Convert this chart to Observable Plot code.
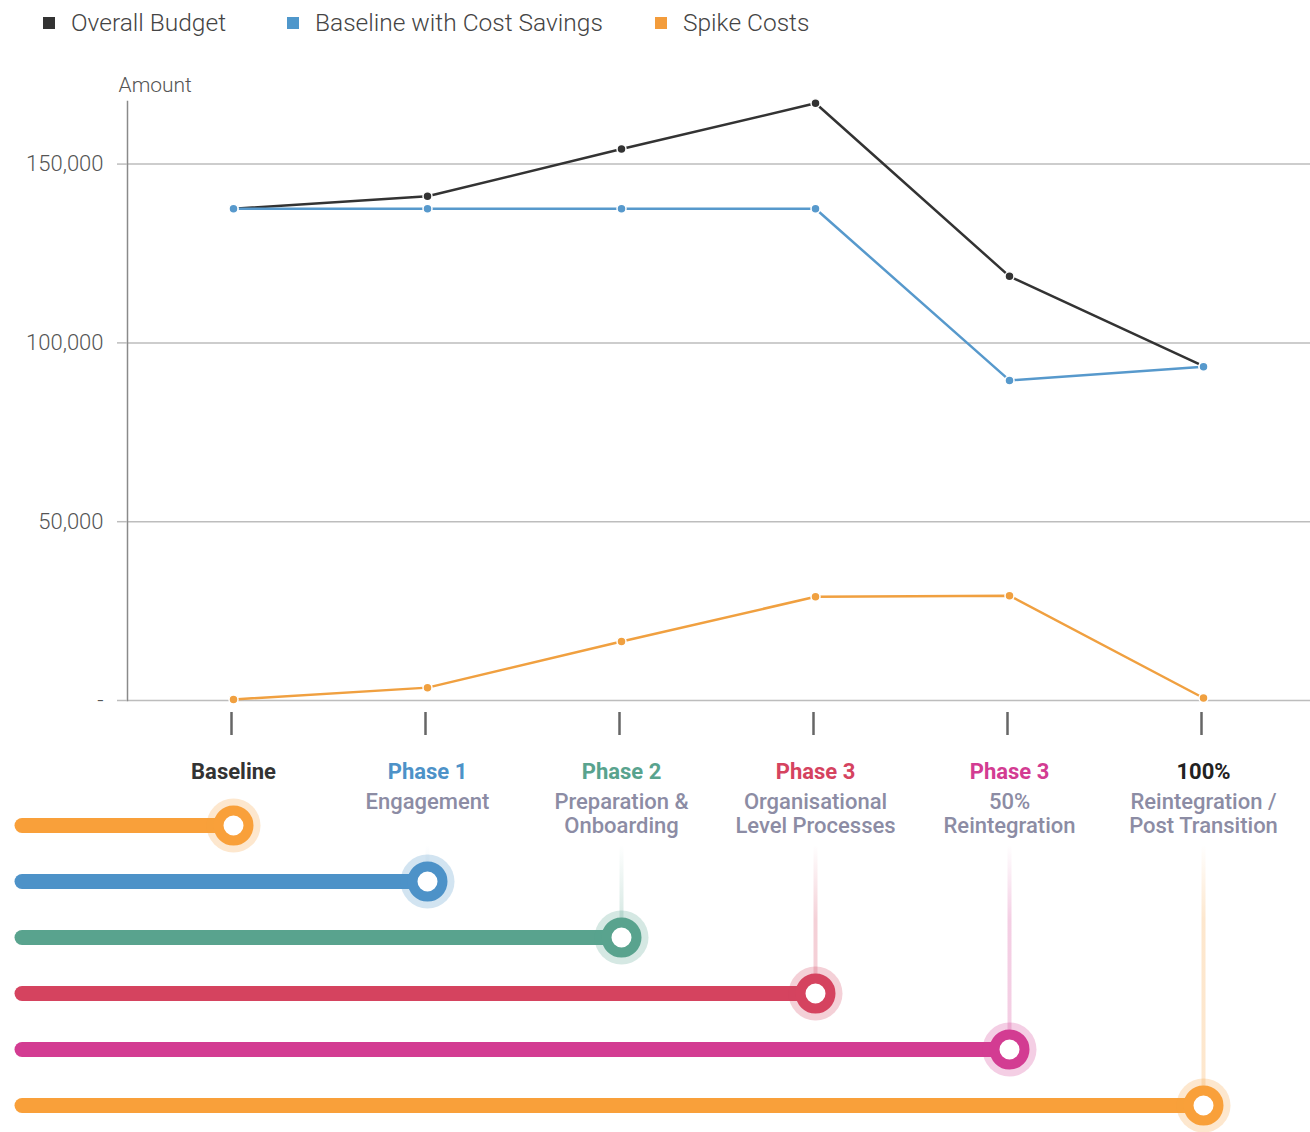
<!DOCTYPE html>
<html>
<head>
<meta charset="utf-8">
<script src="https://cdn.jsdelivr.net/npm/d3@7"></script>
<script src="https://cdn.jsdelivr.net/npm/@observablehq/plot@0.6"></script>
<style>
  body { margin: 0; background: #fff; font-family: Roboto, sans-serif; }
  #legend { position: relative; height: 45px; width: 1310px; }
  .item { position: absolute; top: 0; height: 45px; display: flex; align-items: center;
          font-size: 24.5px; font-weight: 300; color: #444; white-space: nowrap; }
  .sw { width: 12px; height: 12px; margin-right: 16px; }
  svg { display: block; }
</style>
</head>
<body>
<div id="legend"></div>
<div id="chart"></div>
<div id="phases"></div>
<script>
// ---- data ----
const keys = ["baseline", "phase1", "phase2", "phase3", "phase3b", "full"];
const phaseTitles = ["Baseline", "Phase 1", "Phase 2", "Phase 3", "Phase 3", "100%"];
const phaseSubtitles = ["", "Engagement", "Preparation &\nOnboarding", "Organisational\nLevel Processes", "50%\nReintegration", "Reintegration /\nPost Transition"];
const phaseColors = ["#F9A03A", "#4D92C8", "#59A38E", "#D5435F", "#D33C92", "#F9A03A"];
const titleColors = ["#333333", "#4D92C8", "#59A38E", "#D5435F", "#D33C92", "#222222"];

const seriesNames = ["Overall Budget", "Baseline with Cost Savings", "Spike Costs"];
const legendColors = ["#333333", "#4F97CB", "#F39C3B"];
const lineColors = ["#333333", "#5799CC", "#F0A040"];
const overallBudget = [137500, 141000, 154200, 167000, 118600, 93500];
const baselineSavings = [137500, 137500, 137500, 137500, 89500, 93300];
const spikeCosts = [300, 3600, 16500, 29000, 29300, 700];
const yTicks = [0, 50000, 100000, 150000];

// ---- legend ----
const legendLeft = [43, 287, 655];
const legend = document.getElementById("legend");
seriesNames.forEach((name, i) => {
  const it = document.createElement("div");
  it.className = "item";
  it.style.left = legendLeft[i] + "px";
  it.innerHTML = `<span class="sw" style="background:${legendColors[i]}"></span><span>${name}</span>`;
  legend.appendChild(it);
});

// ---- line chart ----
const seriesValues = [overallBudget, baselineSavings, spikeCosts];
const seriesRows = seriesValues.map(vals => vals.map((v, i) => ({key: keys[i], value: v})));
const fmt = d3.format(",");

const lineMarks = [];
seriesRows.forEach((rows, s) => {
  lineMarks.push(Plot.line(rows, {x: "key", y: "value", stroke: lineColors[s], strokeWidth: 2.5}));
});
seriesRows.forEach((rows, s) => {
  lineMarks.push(Plot.dot(rows, {x: "key", y: "value", r: 4.5, fill: lineColors[s], stroke: "white", strokeWidth: 1.5}));
});

const chart = Plot.plot({
  width: 1310, height: 700,
  marginTop: 56, marginBottom: 45, marginLeft: 127, marginRight: 0,
  x: {type: "point", domain: keys, range: [233, 1203], padding: 0},
  y: {domain: [0, 167500]},
  style: {fontFamily: "Roboto, sans-serif", fontSize: "22px", color: "#555", background: "#fff"},
  marks: [
    Plot.gridY(yTicks, {stroke: "#bdbdbd", strokeOpacity: 1, strokeWidth: 1.5}),
    Plot.frame({anchor: "left", stroke: "#8a8a8a", strokeWidth: 1.5}),
    Plot.axisY(yTicks, {tickSize: 10, tickPadding: 14, tickFormat: d => d === 0 ? "-" : fmt(d),
      stroke: "#bdbdbd", strokeWidth: 1.5, fill: "#555", fontWeight: 300, label: null}),
    Plot.axisX(keys, {tickSize: 23, dy: 12, dx: -2, tickFormat: () => "", stroke: "#666", strokeWidth: 2.5, label: null}),
    Plot.text(["Amount"], {frameAnchor: "top-left", dx: -9, dy: -16, textAnchor: "start", lineAnchor: "middle",
      fill: "#555", fontSize: 21, fontWeight: 300}),
    ...lineMarks
  ]
});
document.getElementById("chart").appendChild(chart);

// ---- phase timeline ----
const X = d => d, Y = d => d;
const phasePlot = Plot.plot({
  width: 1310, height: 387,
  marginTop: 100, marginLeft: 22, marginRight: 0, marginBottom: 0,
  x: {type: "point", domain: keys, range: [233, 1203], padding: 0, axis: null},
  y: {type: "point", domain: keys, range: [79, 361], padding: 0, axis: null},
  color: {type: "identity"},
  style: {fontFamily: "Roboto, sans-serif", fontSize: "22px", background: "#fff"},
  marks: [
    Plot.ruleX(keys.slice(1), {x: X, y1: null, y2: Y, stroke: d => `url(#fade-${keys.indexOf(d)})`, strokeWidth: 4}),
    Plot.ruleY(keys, {y: Y, x1: null, x2: X, stroke: (d, i) => phaseColors[i], strokeWidth: 15, strokeLinecap: "round"}),
    Plot.dot(keys, {x: X, y: Y, r: 27, fill: (d, i) => phaseColors[i], fillOpacity: 0.25}),
    Plot.dot(keys, {x: X, y: Y, r: 15, fill: "white", stroke: (d, i) => phaseColors[i], strokeWidth: 10}),
    Plot.text(keys, {x: X, frameAnchor: "top", dy: -74, lineAnchor: "middle", text: (d, i) => phaseTitles[i],
      fill: (d, i) => titleColors[i], fontWeight: 700}),
    Plot.text(keys, {x: X, frameAnchor: "top", dy: -54, text: (d, i) => phaseSubtitles[i],
      lineAnchor: "top", lineHeight: 1.1, fill: "#8c8ca4", fontWeight: 500})
  ]
});
const defs = d3.select(phasePlot).insert("defs", ":first-child");
keys.forEach((k, i) => {
  const g = defs.append("linearGradient").attr("id", `fade-${i}`)
    .attr("gradientUnits", "userSpaceOnUse").attr("x1", 0).attr("x2", 0).attr("y1", 100).attr("y2", 175);
  g.append("stop").attr("offset", 0).attr("stop-color", phaseColors[i]).attr("stop-opacity", 0);
  g.append("stop").attr("offset", 1).attr("stop-color", phaseColors[i]).attr("stop-opacity", 0.25);
});
document.getElementById("phases").appendChild(phasePlot);
</script>
</body>
</html>
